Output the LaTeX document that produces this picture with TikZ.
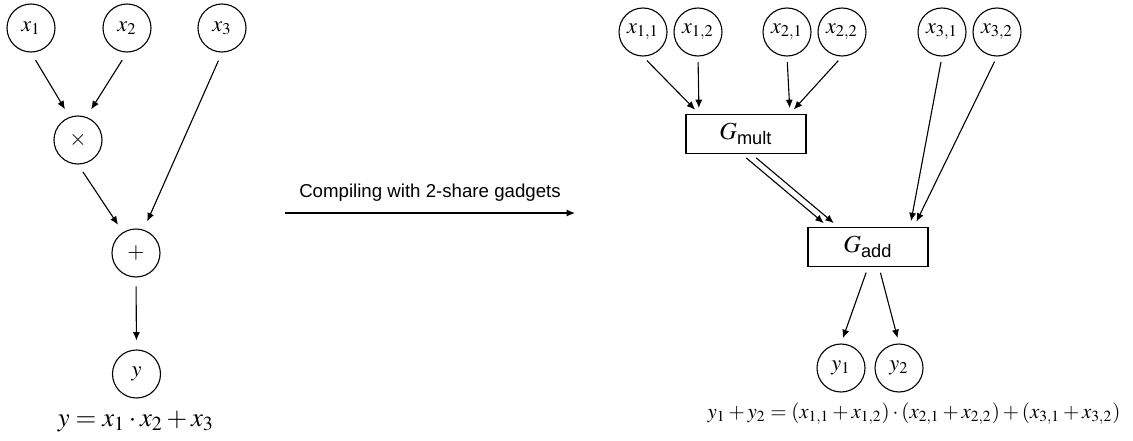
\documentclass[tikz,border=0pt]{standalone}
\usepackage{amsmath}
\usepackage{mathptmx}
\usepackage{fontspec}
\setmainfont{Liberation Serif}
\setsansfont{Liberation Sans}
\usetikzlibrary{positioning}
\usetikzlibrary{calc}
\usetikzlibrary{arrows.meta}
\tikzset{
	every path/.style={line width=0.5pt},
	var/.style={circle,draw,minimum size=21.6pt,inner sep=0pt},
	gadget/.style={rectangle,draw,minimum width=54pt,minimum height=17.8pt,inner sep=0pt,font=\fontsize{11}{13}\selectfont},
	gap/.style={shorten <=#1,shorten >=#1},
	wire/.style={-{Latex[length=3.8pt,width=3.2pt]},gap=2.5pt},
}
\newcommand{\gsub}[1]{\text{\sffamily\fontsize{8.2}{9}\selectfont #1}}

\begin{document}
\begin{tikzpicture}[x=0.45pt,y=-0.45pt]
	\useasboundingbox (0,0) rectangle (1133,440);
	
	% plain circuit.....................
	\node [var] (x1) at (31,28) {$x_1$};
	\node [var] (x2) at (127,28) {$x_2$};
	\node [var] (x3) at (222,28) {$x_3$};
	\node [var] (mul) at (78,140) {$\times$};
	\node [var] (add) at (136,253) {$+$};
	\node [var] (y) at (136.5,374) {$y$};
	\node (yeq) at (136,421) {\fontsize{12}{14}\selectfont $y = x_1 \cdot x_2 + x_3$};
	
	% wires of the plain circuit........
	\draw [wire,gap=4pt] (x1.south) -- (mul.110);
	\draw [wire,gap=4pt] (x2.south) -- (mul.70);
	\draw [wire,gap=4pt] (x3.south) -- (add.72);
	\draw [wire,gap=4pt] (mul.south) -- (add.122);
	\draw [wire,gap=4pt] (add.south) -- (y.north);
	
	% compiling arrow...................
	\coordinate (cstart) at (285,213);
	\coordinate (cend) at (575,213);
	\draw [wire,gap=0pt] (cstart) -- node [above=1.5pt,font=\sffamily\fontsize{8.4}{10}\selectfont] (clabel) {Compiling with 2-share gadgets} (cend);
	
	% shared circuit....................
	\node [var] (x11) at (643,32) {$x_{1,1}$};
	\node [var] (x12) at (698,32) {$x_{1,2}$};
	\node [var] (x21) at (787,32) {$x_{2,1}$};
	\node [var] (x22) at (842,32) {$x_{2,2}$};
	\node [var] (x31) at (942,32) {$x_{3,1}$};
	\node [var] (x32) at (997,32) {$x_{3,2}$};
	\node [gadget] (gmult) at (746,134) {$G_{\gsub{mult}}$};
	\node [gadget] (gadd) at (868,247) {$G_{\gsub{add}}$};
	\node [var] (y1) at (841,368) {$y_1$};
	\node [var] (y2) at (899,368) {$y_2$};
	\node (seq) at (914,414) {\fontsize{9.4}{11}\selectfont
		$y_1 + y_2 = (x_{1,1} + x_{1,2}) \cdot (x_{2,1} + x_{2,2}) + (x_{3,1} + x_{3,2})$};
	
	% gadget ports......................
	\coordinate (min1) at ($(gmult.north)+(-47,0)$);
	\coordinate (min2) at ($(gmult.north)+(44,0)$);
	\coordinate (mout1) at ($(gmult.south)+(-4,0)$);
	\coordinate (mout2) at ($(gmult.south)+(6,0)$);
	\coordinate (ain1) at ($(gadd.north)+(-40,0)$);
	\coordinate (ain2) at ($(gadd.north)+(-30,0)$);
	\coordinate (ain3) at ($(gadd.north)+(42,0)$);
	\coordinate (ain4) at ($(gadd.north)+(46,0)$);
	\coordinate (aout1) at (gadd.south);
	\coordinate (aout2) at ($(gadd.south)+(11,0)$);
	
	% wires of the shared circuit.......
	\draw [wire] (x11.south) -- (min1);
	\draw [wire] (x12.south) -- (min1);
	\draw [wire] (x21.south) -- (min2);
	\draw [wire] (x22.south) -- (min2);
	\draw [wire] (mout1) -- (ain1);
	\draw [wire] (mout2) -- (ain2);
	\draw [wire] (x31.south) -- (ain3);
	\draw [wire] (x32.south) -- (ain4);
	\draw [wire] (aout1) -- (y1.north);
	\draw [wire] (aout2) -- (y2.north);
\end{tikzpicture}
\end{document}
